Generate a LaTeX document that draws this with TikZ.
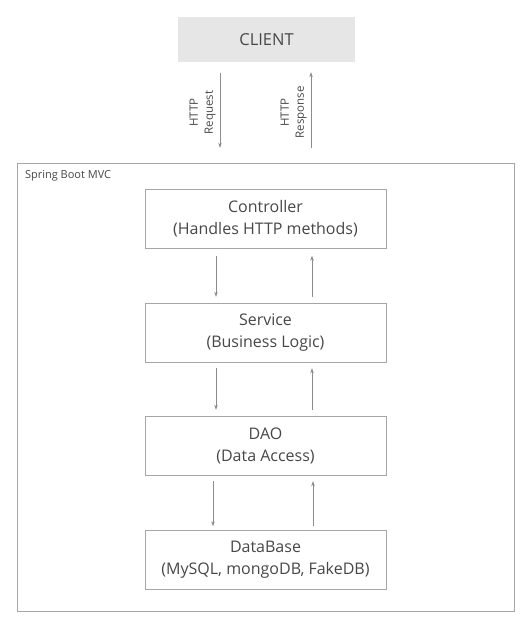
\documentclass[tikz,border=0pt]{standalone}
\usepackage{fontspec}
\setmainfont{Open Sans}
\usetikzlibrary{arrows.meta,positioning}
\definecolor{linegray}{HTML}{8C8C8C}
\definecolor{boxgray}{HTML}{A6A6A6}
\definecolor{textgray}{HTML}{474747}
\definecolor{clientfill}{HTML}{E6E6E6}
\tikzset{
  layer/.style={draw=boxgray, minimum width=241pt, minimum height=59pt,
    align=center, text=textgray, font=\fontsize{16}{22}\selectfont},
  flow/.style={draw=linegray, line width=0.6pt, -{Stealth[length=5pt,width=3.5pt]}},
  httplabel/.style={midway, rotate=90, anchor=south, align=center,
    text=textgray, font=\fontsize{11.5}{15}\selectfont, inner sep=4pt}
}

\begin{document}
\begin{tikzpicture}[x=1pt,y=-1pt]
   \useasboundingbox (0,0) rectangle (532,632);

   % client and outer frame
   \node[fill=clientfill, minimum width=177pt, minimum height=45pt,
     text=textgray, font=\fontsize{16.5}{18}\selectfont] (client) at (266.5,39.5) {CLIENT};
   \node[draw=boxgray, minimum width=497pt, minimum height=448pt] (frame) at (265.5,387) {};
   \node[anchor=north west, text=textgray, font=\fontsize{11}{13}\selectfont,
     inner sep=0pt] (mvc) at ([xshift=8pt,yshift=-7pt]frame.north west) {Spring Boot MVC};

   % layers
   \node[layer] (controller) at (265.5,219)   {Controller\\(Handles HTTP methods)};
   \node[layer] (service)    at (265.5,332.5) {Service\\(Business Logic)};
   \node[layer] (dao)        at (265.5,445.5) {DAO\\(Data Access)};
   \node[layer] (database)   at (265.5,560)   {DataBase\\(MySQL, mongoDB, FakeDB)};

   % http traffic
   \draw[flow, shorten <=11pt, shorten >=15pt] ([xshift=-46.5pt]client.south) -- ([xshift=-45.5pt]frame.north)
     node[httplabel] {HTTP\\Request};
   \draw[flow, shorten <=15pt, shorten >=10pt] ([xshift=45.5pt]frame.north) -- ([xshift=44.5pt]client.south)
     node[httplabel] {HTTP\\Response};

   % calls between layers
   \draw[flow, shorten <=7pt, shorten >=6pt] ([xshift=-49.5pt]controller.south) -- ([xshift=-49.5pt]service.north);
   \draw[flow, shorten <=6pt, shorten >=7pt] ([xshift=46.5pt]service.north) -- ([xshift=46.5pt]controller.south);
   \draw[flow, shorten <=6pt, shorten >=6pt] ([xshift=-49.5pt]service.south) -- ([xshift=-49.5pt]dao.north);
   \draw[flow, shorten <=6pt, shorten >=6pt] ([xshift=46.5pt]dao.north) -- ([xshift=46.5pt]service.south);
   \draw[flow, shorten <=6pt, shorten >=4pt] ([xshift=-52.5pt]dao.south) -- ([xshift=-52.5pt]database.north);
   \draw[flow, shorten <=4pt, shorten >=6pt] ([xshift=47.5pt]database.north) -- ([xshift=47.5pt]dao.south);
\end{tikzpicture}
\end{document}
